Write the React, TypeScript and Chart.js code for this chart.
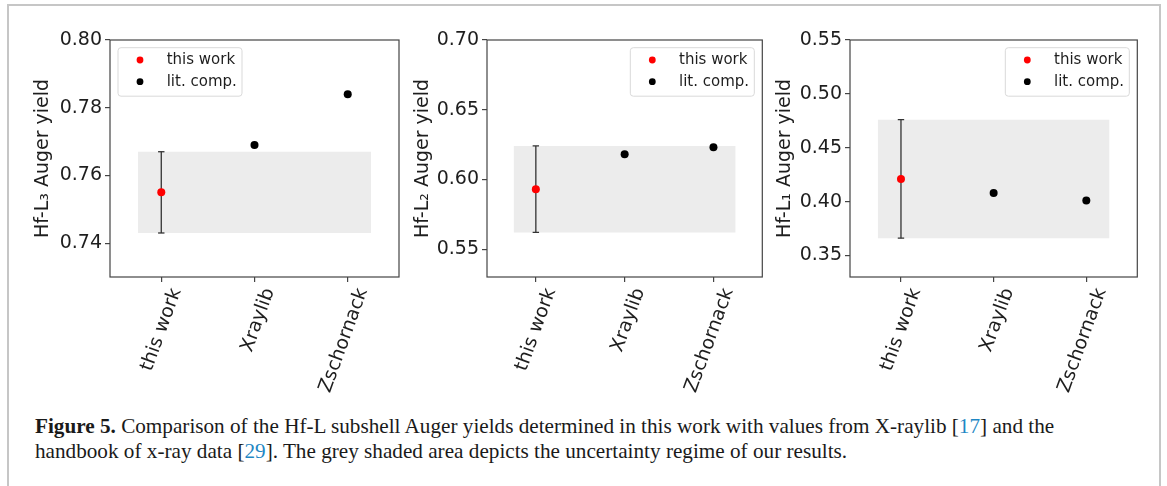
import React, { useEffect, useRef } from 'react';
import { Chart, registerables } from 'chart.js';

Chart.register(...registerables);

// ---------------- data ----------------
const categories = ['this work', 'Xraylib', 'Zschornack'];
const legendLabels = ['this work', 'lit. comp.'];
const legendColors = ['#ff0000', '#000000'];
const shellTitles = ['Hf-L₃ Auger yield', 'Hf-L₂ Auger yield', 'Hf-L₁ Auger yield'];
const thisWorkValues = [0.755, 0.593, 0.421];
const thisWorkErrors = [0.012, 0.031, 0.055];
const xraylibValues = [0.769, 0.618, 0.408];
const zschornackValues = [0.784, 0.623, 0.401];
const yMins = [0.73, 0.53, 0.33];
const yMaxs = [0.8, 0.7, 0.55];
const yTicksL3 = [0.74, 0.76, 0.78, 0.8];
const yTicksL2 = [0.55, 0.6, 0.65, 0.7];
const yTicksL1 = [0.35, 0.4, 0.45, 0.5, 0.55];
const yTickSets = [yTicksL3, yTicksL2, yTicksL1];
const xTickValues = [0, 1, 2];
const bandX = [-0.25, 2.25];
const xLimits = [-0.55, 2.55];

// ---------------- layout ----------------
const canvasLefts = [0, 380, 742];
const canvasWidths = [410, 390, 418];
const yAxisWidths = [110, 107, 108];
const rightPads = [11, 7.7, 22.7];
const legendSides = ['left', 'right', 'right'];
const CANVAS_H = 410;
const CHART_TOP = 40;
const CHART_BOTTOM = 277;

const FONT = 'DejaVu Sans';
const TEXT = '#1e1e1e';
const AXIS = '#444444';

const framePlugin = {
  id: 'frame',
  afterDatasetsDraw(chart: any) {
    const { ctx, chartArea } = chart;
    ctx.save();
    ctx.strokeStyle = AXIS;
    ctx.lineWidth = 1.2;
    ctx.strokeRect(chartArea.left, chartArea.top, chartArea.right - chartArea.left, chartArea.bottom - chartArea.top);
    ctx.restore();
  },
};

function makeLegendPlugin(side: string) {
  return {
    id: 'boxLegend',
    afterDraw(chart: any) {
      const { ctx, chartArea } = chart;
      const w = 124;
      const h = 48.5;
      const x0 = side === 'left' ? chartArea.left + 8 : chartArea.right - 8 - w;
      const y0 = chartArea.top + 7.7;
      ctx.save();
      ctx.beginPath();
      const r = 3;
      ctx.moveTo(x0 + r, y0);
      ctx.lineTo(x0 + w - r, y0);
      ctx.arcTo(x0 + w, y0, x0 + w, y0 + r, r);
      ctx.lineTo(x0 + w, y0 + h - r);
      ctx.arcTo(x0 + w, y0 + h, x0 + w - r, y0 + h, r);
      ctx.lineTo(x0 + r, y0 + h);
      ctx.arcTo(x0, y0 + h, x0, y0 + h - r, r);
      ctx.lineTo(x0, y0 + r);
      ctx.arcTo(x0, y0, x0 + r, y0, r);
      ctx.closePath();
      ctx.fillStyle = 'rgba(255,255,255,0.8)';
      ctx.fill();
      ctx.strokeStyle = '#d9d9d9';
      ctx.lineWidth = 1;
      ctx.stroke();
      ctx.font = `15px "${FONT}"`;
      ctx.textBaseline = 'middle';
      ctx.textAlign = 'left';
      legendLabels.forEach((lab, i) => {
        const cy = y0 + 12.3 + i * 21.7;
        ctx.beginPath();
        ctx.arc(x0 + 22, cy, 3.4, 0, Math.PI * 2);
        ctx.fillStyle = legendColors[i];
        ctx.fill();
        ctx.fillStyle = TEXT;
        ctx.fillText(lab, x0 + 48.7, cy);
      });
      ctx.restore();
    },
  };
}

function buildConfig(i: number): any {
  const v = thisWorkValues[i];
  const e = thisWorkErrors[i];
  const lo = v - e;
  const hi = v + e;
  const yTicks = yTickSets[i];
  return {
    type: 'line',
    data: {
      datasets: [
        {
          label: 'band upper',
          data: bandX.map((x) => ({ x, y: hi })),
          borderColor: 'rgba(0,0,0,0)',
          borderWidth: 0,
          pointRadius: 0,
          backgroundColor: 'rgba(128,128,128,0.15)',
          fill: '+1',
          order: 5,
        },
        {
          label: 'band lower',
          data: bandX.map((x) => ({ x, y: lo })),
          borderColor: 'rgba(0,0,0,0)',
          borderWidth: 0,
          pointRadius: 0,
          fill: false,
          order: 5,
        },
        {
          label: 'error',
          data: [
            { x: xTickValues[0], y: lo },
            { x: xTickValues[0], y: hi },
          ],
          borderColor: '#333333',
          borderWidth: 1.3,
          pointStyle: 'line',
          pointRadius: 3.2,
          pointBorderColor: '#333333',
          pointBorderWidth: 1.3,
          fill: false,
          order: 3,
        },
        {
          label: legendLabels[0],
          data: [{ x: xTickValues[0], y: v }],
          showLine: false,
          pointRadius: 4,
          pointBorderWidth: 0,
          pointBackgroundColor: legendColors[0],
          order: 1,
        },
        {
          label: legendLabels[1],
          data: [
            { x: xTickValues[1], y: xraylibValues[i] },
            { x: xTickValues[2], y: zschornackValues[i] },
          ],
          showLine: false,
          pointRadius: 4,
          pointBorderWidth: 0,
          pointBackgroundColor: legendColors[1],
          order: 1,
        },
      ],
    },
    options: {
      animation: false,
      responsive: false,
      maintainAspectRatio: false,
      events: [],
      layout: { padding: { left: 0, top: CHART_TOP, right: rightPads[i], bottom: 0 } },
      plugins: { legend: { display: false }, tooltip: { enabled: false }, title: { display: false } },
      scales: {
        x: {
          type: 'linear',
          min: xLimits[0],
          max: xLimits[1],
          afterBuildTicks: (ax: any) => {
            ax.ticks = xTickValues.map((value) => ({ value }));
          },
          afterFit: (s: any) => {
            s.height = CANVAS_H - CHART_BOTTOM;
          },
          border: { display: false },
          grid: { drawOnChartArea: false, drawTicks: true, tickLength: 5, color: AXIS, lineWidth: 1.2 },
          ticks: {
            autoSkip: false,
            minRotation: 70,
            maxRotation: 70,
            padding: 3,
            labelOffset: 15,
            color: TEXT,
            font: { family: FONT, size: 19 },
            callback: (val: number) => categories[Math.round(val)],
          },
        },
        y: {
          type: 'linear',
          min: yMins[i],
          max: yMaxs[i],
          afterBuildTicks: (ax: any) => {
            ax.ticks = yTicks.map((value) => ({ value }));
          },
          afterFit: (s: any) => {
            s.width = yAxisWidths[i];
          },
          border: { display: false },
          grid: { drawOnChartArea: false, drawTicks: true, tickLength: 5, color: AXIS, lineWidth: 1.2 },
          ticks: {
            padding: 3,
            color: TEXT,
            font: { family: FONT, size: 19 },
            callback: (val: number) => Number(val).toFixed(2),
          },
          title: {
            display: true,
            text: shellTitles[i],
            color: TEXT,
            font: { family: FONT, size: 19, lineHeight: 1.2 },
            padding: { top: 31.6, bottom: 0 },
          },
        },
      },
    },
    plugins: [framePlugin, makeLegendPlugin(legendSides[i])],
  };
}

function Panel({ index }: { index: number }) {
  const ref = useRef<HTMLCanvasElement | null>(null);
  useEffect(() => {
    const chart = new Chart(ref.current as HTMLCanvasElement, buildConfig(index));
    return () => chart.destroy();
  }, [index]);
  return (
    <canvas
      ref={ref}
      width={canvasWidths[index]}
      height={CANVAS_H}
      style={{
        position: 'absolute',
        left: canvasLefts[index],
        top: 0,
        width: canvasWidths[index],
        height: CANVAS_H,
      }}
    />
  );
}

const refStyle = { color: '#1f87c4' };

export default function App() {
  return (
    <div
      style={{
        position: 'absolute',
        left: 0,
        top: 0,
        width: 1167,
        height: 486,
        overflow: 'hidden',
        background: '#ffffff',
      }}
    >
      <div
        style={{
          position: 'absolute',
          left: 7,
          top: 4,
          width: 1154,
          height: 520,
          boxSizing: 'border-box',
          borderTop: '2px solid #c6c6c6',
          borderLeft: '2px solid #c6c6c6',
          borderRight: '2px solid #c6c6c6',
        }}
      />
      {[0, 1, 2].map((i) => (
        <Panel key={i} index={i} />
      ))}
      <div
        style={{
          position: 'absolute',
          left: 35,
          top: 414,
          width: 1110,
          fontFamily: '"Liberation Serif", serif',
          fontSize: 21.2,
          lineHeight: '25px',
          color: '#1a1a1a',
          whiteSpace: 'nowrap',
        }}
      >
        <div>
          <b>Figure 5.</b> Comparison of the Hf-L subshell Auger yields determined in this work with values from
          X-raylib [<span style={refStyle}>17</span>] and the
        </div>
        <div>
          handbook of x-ray data [<span style={refStyle}>29</span>]. The grey shaded area depicts the uncertainty regime
          of our results.
        </div>
      </div>
    </div>
  );
}
